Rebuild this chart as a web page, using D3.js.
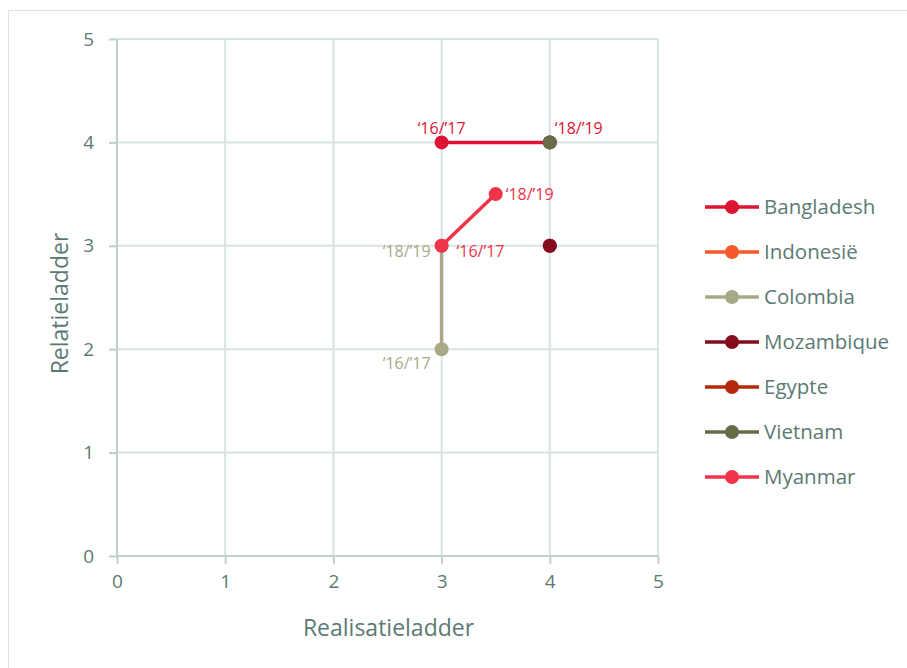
<!DOCTYPE html>
<html>
<head>
<meta charset="utf-8">
<script src="https://cdn.jsdelivr.net/npm/d3@7"></script>
<style>
  body { margin: 0; background: #fff; }
  svg text { font-family: "Open Sans", "Noto Sans", sans-serif; }
</style>
</head>
<body>
<script>
// chart data
var countries = ["Bangladesh", "Indonesië", "Colombia", "Mozambique", "Egypte", "Vietnam", "Myanmar"];
var colors = ["#de1233", "#f55a2c", "#a9a987", "#840c1e", "#b32a0a", "#6a6b49", "#f0324a"];
var years = ["‘16/’17", "‘18/’19"];
// realisatieladder (x) per year
var realX = [[3, 4], [], [3, 3], [4, 4], [], [4, 4], [3, 3.5]];
// relatieladder (y) per year
var relY = [[4, 4], [], [2, 3], [3, 3], [], [4, 4], [3, 3.5]];
var ticks = [0, 1, 2, 3, 4, 5];

// labels shown next to points: series, year index, position
var pointLabels = [
  {s: 0, i: 0, pos: "top"},
  {s: 0, i: 1, pos: "topright"},
  {s: 6, i: 1, pos: "right"},
  {s: 6, i: 0, pos: "bottomright"},
  {s: 2, i: 1, pos: "left"},
  {s: 2, i: 0, pos: "bottomleft"}
];

var svgWidth = 907, svgHeight = 668;
var textColor = "#5b7a73";

var svg = d3.select("body").append("svg")
  .attr("width", svgWidth)
  .attr("height", svgHeight);

// outer border
svg.append("rect")
  .attr("x", 8.5).attr("y", 10.5)
  .attr("width", 920).attr("height", 680)
  .attr("fill", "none")
  .attr("stroke", "#d9e3e0");

var xScale = d3.scaleLinear().domain([0, 5]).range([117, 658]);
var yScale = d3.scaleLinear().domain([0, 5]).range([556, 39]);

// gridlines
svg.append("g").selectAll("line.v")
  .data(ticks.slice(1))
  .enter().append("line")
  .attr("x1", d => xScale(d)).attr("x2", d => xScale(d))
  .attr("y1", yScale(0)).attr("y2", yScale(5))
  .attr("stroke", "#d9e3e0").attr("stroke-width", 2);

svg.append("g").selectAll("line.h")
  .data(ticks.slice(1))
  .enter().append("line")
  .attr("x1", xScale(0)).attr("x2", xScale(5))
  .attr("y1", d => yScale(d)).attr("y2", d => yScale(d))
  .attr("stroke", "#d9e3e0").attr("stroke-width", 2);

// axes
var xAxis = d3.axisBottom(xScale).tickValues(ticks).tickFormat(d3.format("d")).tickSize(8).tickPadding(11);
var yAxis = d3.axisLeft(yScale).tickValues(ticks).tickFormat(d3.format("d")).tickSize(8).tickPadding(15);

var gx = svg.append("g")
  .attr("transform", `translate(0,${yScale(0)})`)
  .call(xAxis);
var gy = svg.append("g")
  .attr("transform", `translate(${xScale(0)},0)`)
  .call(yAxis);

[gx, gy].forEach(function(g) {
  g.select(".domain").attr("stroke", "#bfd0cc").attr("stroke-width", 2);
  g.selectAll(".tick line").attr("stroke", "#bfd0cc").attr("stroke-width", 2);
  g.selectAll(".tick text")
    .attr("fill", textColor)
    .style("font-size", "19px");
});
gx.select(".domain").attr("d", `M${xScale(0)},0H${xScale(5)}`);
gy.select(".domain").attr("d", `M0,${yScale(0)}V${yScale(5)}`);

// axis titles
svg.append("text")
  .attr("x", (xScale(0) + xScale(5)) / 2 + 1)
  .attr("y", 636)
  .attr("text-anchor", "middle")
  .attr("fill", textColor)
  .style("font-size", "23px")
  .text("Realisatieladder");

svg.append("text")
  .attr("transform", `translate(68,${(yScale(0) + yScale(5)) / 2 + 6}) rotate(-90)`)
  .attr("text-anchor", "middle")
  .attr("fill", textColor)
  .style("font-size", "23px")
  .text("Relatieladder");

// series
var line = d3.line()
  .x(d => xScale(d[0]))
  .y(d => yScale(d[1]));

countries.forEach(function(c, s) {
  var pts = realX[s].map((x, i) => [x, relY[s][i]]);
  if (!pts.length) return;
  var g = svg.append("g");
  g.append("path")
    .datum(pts)
    .attr("d", line)
    .attr("fill", "none")
    .attr("stroke", colors[s])
    .attr("stroke-width", 3.5);
  g.selectAll("circle")
    .data(pts)
    .enter().append("circle")
    .attr("cx", d => xScale(d[0]))
    .attr("cy", d => yScale(d[1]))
    .attr("r", 7)
    .attr("fill", colors[s]);
});

// point labels
var offsets = {
  top:         {dx: 0,   dy: -8,  anchor: "middle"},
  topright:    {dx: 5,   dy: -8,  anchor: "start"},
  right:       {dx: 10,  dy: 6,   anchor: "start"},
  bottomright: {dx: 15,  dy: 11,  anchor: "start"},
  left:        {dx: -11, dy: 11,  anchor: "end"},
  bottomleft:  {dx: -11, dy: 20,  anchor: "end"}
};

svg.append("g").selectAll("text")
  .data(pointLabels)
  .enter().append("text")
  .attr("x", d => xScale(realX[d.s][d.i]) + offsets[d.pos].dx)
  .attr("y", d => yScale(relY[d.s][d.i]) + offsets[d.pos].dy)
  .attr("text-anchor", d => offsets[d.pos].anchor)
  .attr("fill", d => colors[d.s])
  .style("font-size", "16px")
  .text(d => years[d.i]);

// legend
var legend = svg.append("g")
  .attr("transform", "translate(705,207)");

var item = legend.selectAll("g")
  .data(countries)
  .enter().append("g")
  .attr("transform", (d, i) => `translate(0,${i * 45})`);

item.append("line")
  .attr("x1", 0).attr("x2", 54)
  .attr("stroke", (d, i) => colors[i])
  .attr("stroke-width", 3.5);
item.append("circle")
  .attr("cx", 27).attr("r", 7)
  .attr("fill", (d, i) => colors[i]);
item.append("text")
  .attr("x", 59)
  .attr("y", 7)
  .attr("fill", textColor)
  .style("font-size", "20.5px")
  .text(d => d);
</script>
</body>
</html>
